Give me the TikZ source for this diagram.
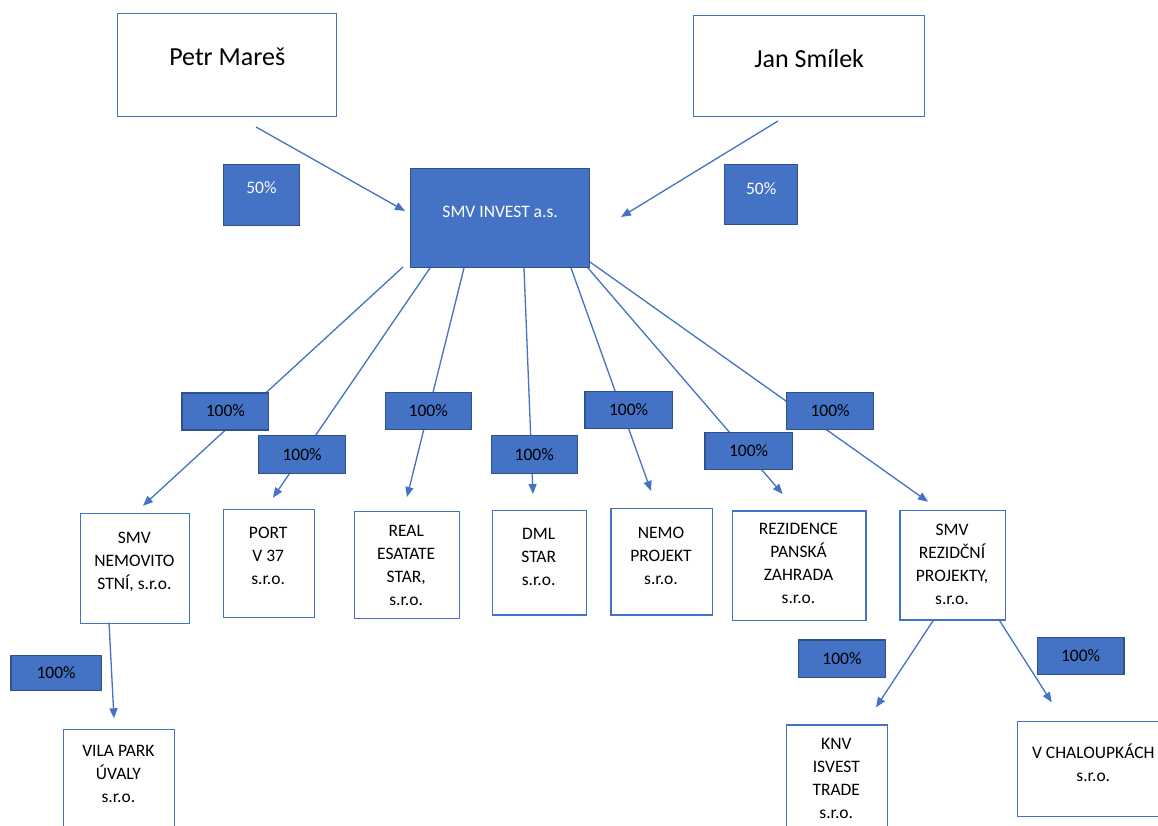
\documentclass[tikz,border=0pt]{standalone}
\usepackage{fontspec}
\setmainfont{Carlito}
\usetikzlibrary{arrows.meta}
\definecolor{accent}{HTML}{4472C4}
\definecolor{accentdark}{HTML}{2F528F}
\tikzset{
  wbox/.style={draw=accent, line width=1.4pt, fill=white, inner sep=0pt, anchor=north west},
  bigtext/.style={font=\fontsize{26}{31}\selectfont, text height=16.4pt},
  bluebox/.style={draw=accentdark, fill=accent, line width=1.3pt, inner sep=0pt, anchor=north west,
    text=white, font=\fontsize{17.5}{23}\selectfont, text height=11pt, text depth=13pt},
  pct/.style={draw=accentdark, fill=accent, line width=1.3pt, inner sep=0pt, anchor=north west,
    text=black, font=\fontsize{17.5}{23}\selectfont, text height=11pt, text depth=0pt},
  txt/.style={font=\fontsize{17.5}{23}\selectfont, align=center, inner sep=0pt, text=black},
  link/.style={draw=accent, line width=1.3pt, -{Triangle[length=10pt,width=8pt]}},
}
\begin{document}
\begin{tikzpicture}[x=1pt,y=-1pt]
\clip (0,0) rectangle (1158,825);
\fill[white] (0,0) rectangle (1158,825);

% owners
\node[wbox, bigtext, minimum width=219pt, minimum height=103pt, text depth=15.6pt] (pm) at (117,13) {Petr Mareš};
\node[wbox, bigtext, minimum width=231pt, minimum height=101pt, text depth=13pt] (js) at (693,15) {Jan Smílek};

% child boxes
\node[wbox, minimum width=108.7pt, minimum height=109.7pt] (c1) at (80,513) {};
\node[wbox, minimum width=91pt,    minimum height=107.7pt] (c2) at (223,509) {};
\node[wbox, minimum width=105.3pt, minimum height=106.7pt] (c3) at (353.6,511) {};
\node[wbox, minimum width=93.5pt,  minimum height=104.3pt] (c4) at (492,510) {};
\node[wbox, minimum width=101.1pt, minimum height=106.6pt] (c5) at (610.4,507.7) {};
\node[wbox, minimum width=133.3pt, minimum height=109.7pt] (c6) at (731.9,510.3) {};
\node[wbox, minimum width=105.5pt, minimum height=109.3pt] (c7) at (899.3,510) {};
\node[wbox, minimum width=111.2pt, minimum height=120pt]   (c8) at (62.8,728.7) {};
\node[wbox, minimum width=101.3pt, minimum height=120pt]   (c9) at (785.7,724.3) {};
\node[wbox, minimum width=153.3pt, minimum height=95pt]    (c10) at (1016.7,721) {};

\node[txt] (t1) at (134.4,561.5) {SMV\\NEMOVITO\\STNÍ, s.r.o.};
\node[txt] (t2) at (268.2,556.3) {PORT\\V 37\\s.r.o.};
\node[txt] (t3) at (406.2,565) {REAL\\ESATATE\\STAR,\\s.r.o.};
\node[txt] (t4) at (538.7,556.5) {DML\\STAR\\s.r.o.};
\node[txt] (t5) at (661,555.5) {NEMO\\PROJEKT\\s.r.o.};
\node[txt] (t6) at (798.5,563.7) {REZIDENCE\\PANSKÁ\\ZAHRADA\\s.r.o.};
\node[txt] (t7) at (952,564) {SMV\\REZIDČNÍ\\PROJEKTY,\\s.r.o.};
\node[txt] (t8) at (118.4,773.7) {VILA PARK\\ÚVALY\\s.r.o.};
\node[txt] (t9) at (836.3,778) {KNV\\ISVEST\\TRADE\\s.r.o.};
\node[txt] (t10) at (1093.3,762.8) {V CHALOUPKÁCH\\s.r.o.};

% connector end points
\coordinate (pm-out) at (256,127);
\coordinate (js-out) at (778,121);
\coordinate (inv-inl) at (405,211);
\coordinate (inv-inr) at (621,217);
\coordinate (o1) at (403,267);
\coordinate (o2) at (430,268);
\coordinate (o3) at (464,268);
\coordinate (o4) at (524,268);
\coordinate (o5) at (571,268);
\coordinate (o6) at (588,268);
\coordinate (o7) at (590,262);
\coordinate (i1) at (143,505.7);
\coordinate (i2) at (273,497.7);
\coordinate (i3) at (407,497);
\coordinate (i4) at (533,494);
\coordinate (i5) at (651,491);
\coordinate (i6) at (782.6,494);
\coordinate (i7) at (928,501.7);
\coordinate (o8) at (109,622.7);
\coordinate (i8) at (114,718.3);
\coordinate (o9) at (934,619.3);
\coordinate (i9) at (876,707.3);
\coordinate (o10) at (998.7,619.3);
\coordinate (i10) at (1051.7,702.3);

\draw[link] (pm-out) -- (inv-inl);
\draw[link] (js-out) -- (inv-inr);
\draw[link] (o1) -- (i1);
\draw[link] (o2) -- (i2);
\draw[link] (o3) -- (i3);
\draw[link] (o4) -- (i4);
\draw[link] (o5) -- (i5);
\draw[link] (o6) -- (i6);
\draw[link] (o7) -- (i7);
\draw[link] (o8) -- (i8);
\draw[link] (o9) -- (i9);
\draw[link] (o10) -- (i10);

% main company and share labels
\node[bluebox, minimum width=179pt, minimum height=99pt] (inv) at (410,168) {SMV INVEST a.s.};
\node[bluebox, minimum width=75.5pt, minimum height=61pt, text depth=14pt] (s50l) at (223,164) {50\%};
\node[bluebox, minimum width=73pt, minimum height=60pt, text depth=12pt] (s50r) at (724,164) {50\%};

\node[pct, minimum width=86.6pt, minimum height=37pt]   (l1) at (181.4,392.3) {100\%};
\node[pct, minimum width=87pt,   minimum height=38pt]   (l2) at (258,435) {100\%};
\node[pct, minimum width=86.1pt, minimum height=37pt]   (l3) at (384.6,392) {100\%};
\node[pct, minimum width=86.1pt, minimum height=38pt]   (l4) at (490.6,435) {100\%};
\node[pct, minimum width=87.1pt, minimum height=37.3pt] (l5) at (584.4,390.7) {100\%};
\node[pct, minimum width=87.1pt, minimum height=37pt]   (l6) at (704.4,432) {100\%};
\node[pct, minimum width=87pt,   minimum height=37pt]   (l7) at (786,392) {100\%};
\node[pct, minimum width=90.3pt, minimum height=34.7pt] (l8) at (10.3,655) {100\%};
\node[pct, minimum width=87.3pt, minimum height=37.4pt] (l9) at (797.7,639.3) {100\%};
\node[pct, minimum width=86.6pt, minimum height=37.3pt] (l10) at (1036.7,636.7) {100\%};
\end{tikzpicture}
\end{document}
